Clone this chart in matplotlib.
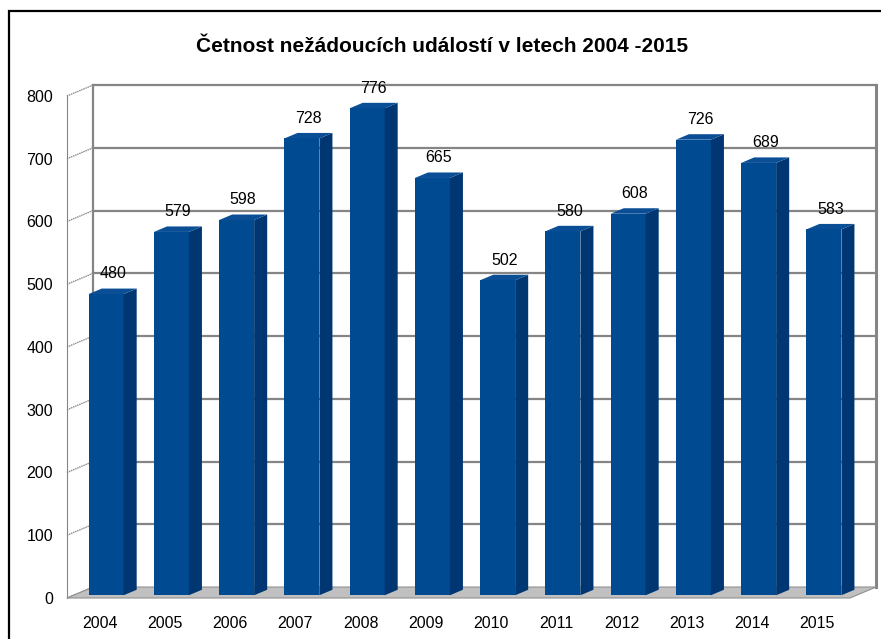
import numpy as np
import matplotlib.pyplot as plt
from matplotlib.patches import Polygon, Rectangle

plt.rcParams['font.family'] = ['Liberation Sans', 'DejaVu Sans']

years = ['2004', '2005', '2006', '2007', '2008', '2009',
         '2010', '2011', '2012', '2013', '2014', '2015']
counts = [480, 579, 598, 728, 776, 665, 502, 580, 608, 726, 689, 583]
yticks = [0, 100, 200, 300, 400, 500, 600, 700, 800]

# depth of the fake 3D box in data units
DX = 0.40
DY = 17.5
front_col = '#004A92'
side_col = '#003671'
top_col = '#0A4E96'
grid_col = '#858585'

fig = plt.figure(figsize=(8.81, 6.39), dpi=100)
ax = fig.add_axes([67 / 881, 41 / 639, 783 / 881, 502 / 639])
ax.set_xlim(-0.5, 11.5)
ax.set_ylim(0, 800)
for s in ax.spines.values():
    s.set_visible(False)

x0, x1 = -0.5, len(years) - 0.5

# floor
floor = Polygon([(x0, 0), (x1, 0), (x1 + DX, DY), (x0 + DX, DY)],
                closed=True, facecolor='#C0C0C0', edgecolor='#909090',
                lw=0.8, clip_on=False, zorder=1)
ax.add_patch(floor)

# walls and gridlines
for v in yticks:
    if v > 0:
        ax.plot([x0 + DX, x1 + DX], [v + DY, v + DY], color=grid_col,
                lw=1.6, clip_on=False, zorder=0.5)
    ax.plot([x0, x0 + DX], [v, v + DY], color=grid_col, lw=1.0,
            ls=(0, (1, 0.6)), clip_on=False, zorder=0.5)
ax.plot([x0 + DX, x0 + DX], [DY, 800 + DY], color=grid_col, lw=1.6,
        clip_on=False, zorder=0.5)
ax.plot([x1 + DX, x1 + DX], [DY, 800 + DY], color=grid_col, lw=2.2,
        clip_on=False, zorder=0.5)
ax.plot([x0, x0], [0, 800], color=grid_col, lw=0.8, clip_on=False,
        zorder=0.5)

# bars
w = 0.536
f0, f1 = 0.25, 0.75
for i, v in enumerate(counts):
    xl = i - w / 2 + f0 * DX
    xr = xl + w
    yb = f0 * DY
    yt = v + f0 * DY
    ddx = (f1 - f0) * DX
    ddy = (f1 - f0) * DY
    ax.add_patch(Polygon([(xl, yb), (xr, yb), (xr, yt), (xl, yt)],
                         closed=True, facecolor=front_col, lw=0,
                         clip_on=False, zorder=3))
    ax.add_patch(Polygon([(xr, yb), (xr + ddx, yb + ddy), (xr + ddx, yt + ddy),
                          (xr, yt)], closed=True, facecolor=side_col, lw=0,
                         clip_on=False, zorder=3))
    ax.add_patch(Polygon([(xl, yt), (xr, yt), (xr + ddx, yt + ddy),
                          (xl + ddx, yt + ddy)], closed=True,
                         facecolor=top_col, lw=0, clip_on=False, zorder=3))
    ax.annotate(str(v), (i + 0.5 * DX, v + 0.5 * DY), xytext=(0, 12.5),
                textcoords='offset points', ha='center', va='center',
                fontsize=11.5, zorder=4)

ax.set_xticks(range(len(years)))
ax.set_xticklabels(years, fontsize=11.5)
ax.set_yticks(yticks)
ax.set_yticklabels([str(t) for t in yticks], fontsize=11.5)
ax.tick_params(axis='both', length=0)
ax.tick_params(axis='y', pad=10)
ax.tick_params(axis='x', pad=13)

fig.text(442 / 881, 1 - 47 / 639,
         'Četnost nežádoucích událostí v letech 2004 -2015',
         ha='center', va='center', fontsize=15, fontweight='bold')

fig.patches.append(Rectangle((9 / 881, -0.1), 1.2, 1.1 - 11 / 639,
                             transform=fig.transFigure, fill=False,
                             edgecolor='black', lw=1.6))

fig.savefig('out.png', dpi=100)
